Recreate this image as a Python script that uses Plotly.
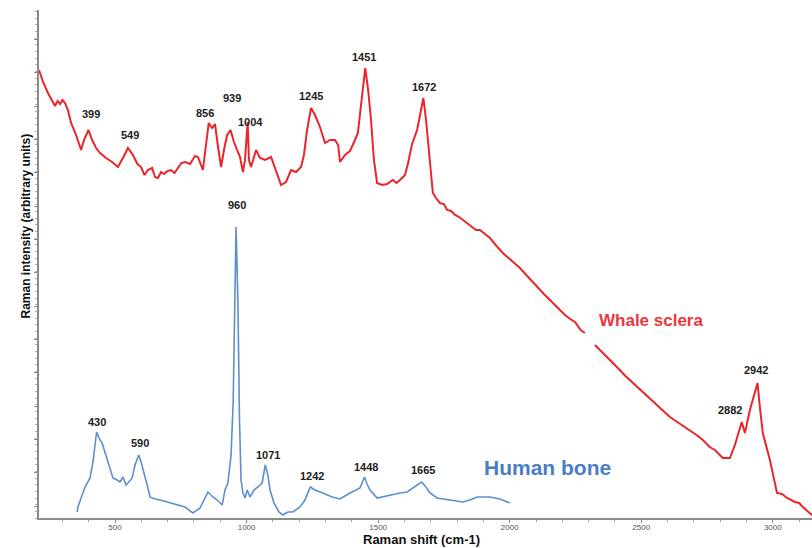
import plotly.graph_objects as go

# ---------------- data ----------------
# Whale sclera spectrum: Raman shift (cm-1) and intensity (arbitrary units)
whale_shift = [211, 228, 245, 261, 272, 282, 291, 300, 310, 321, 333, 352, 371, 382, 399, 413, 428, 443, 466, 489,
               511, 530, 549, 568, 585, 599, 612, 625, 641, 652, 663, 675, 686, 700, 713, 726, 739, 752, 766, 785, 804, 815, 834,
               846, 856, 869, 880, 891, 903, 914, 926, 939, 952, 964, 975, 986, 994, 1004, 1009,
               1017, 1024, 1036, 1051, 1070, 1093, 1112, 1131, 1150, 1169, 1188, 1207, 1218, 1230,
               1245, 1260, 1279, 1298, 1317, 1336, 1348, 1355, 1374, 1393, 1412, 1423, 1435, 1451,
               1462, 1473, 1484, 1496, 1515, 1534, 1556, 1570, 1583, 1602, 1613, 1629, 1648, 1659, 1672,
               1682, 1693, 1708, 1720, 1735, 1750, 1762, 1778, 1792, 1808, 1822, 1840, 1857, 1872, 1887,
               1905, 1925, 1950, 1974, 2000, 2020, 2039, 2070, 2104, 2130, 2153, 2180,
               2210, 2230, 2248, 2270, 2286, None, 2324, 2360, 2400, 2440, 2484, 2520, 2552, 2580, 2609,
               2650, 2685, 2710, 2734, 2760, 2780, 2810, 2837,
               2856, 2882, 2894, 2913, 2942, 2950, 2962, 2989, 3016, 3035, 3054, 3084, 3100, 3114, 3149, 3170]
whale_int = [134.4, 130.5, 127.5, 125.4, 123.6, 125.1, 124.2, 125.4, 124.5, 122.4, 118.5, 114.9, 110.4, 113.4, 116.4, 113.4, 111.0, 109.5, 108.0, 106.8,
             105.3, 108.0, 111.0, 108.9, 106.2, 105.3, 102.9, 104.4, 105.0, 102.3, 102.0, 103.8, 103.2, 104.1, 104.4, 103.5, 105.0, 106.5, 106.8, 106.2, 108.6, 108.3, 104.4,
             111.6, 118.5, 117.0, 118.2, 111.6, 105.3, 110.4, 114.9, 116.4, 112.8, 110.4, 108.3, 103.8, 107.4, 118.8, 107.4,
             105.3, 107.4, 110.4, 108.0, 107.4, 108.3, 104.4, 99.9, 100.8, 104.4, 103.8, 105.3, 108.9, 116.4,
             123.0, 120.9, 117.3, 112.5, 113.4, 113.4, 111.9, 106.8, 108.9, 110.1, 113.4, 115.5, 123.9, 135.0,
             128.4, 119.4, 107.4, 100.5, 99.9, 100.2, 101.4, 100.5, 101.4, 102.9, 106.2, 112.2, 116.4, 120.9, 126.0,
             119.4, 110.4, 97.5, 96.0, 94.5, 94.2, 92.4, 92.1, 90.9, 90.3, 89.4, 88.2, 87.3, 86.4, 86.4,
             85.2, 84.0, 81.6, 79.5, 77.7, 76.2, 75.0, 72.3, 69.3, 67.2, 65.4, 63.3,
             60.9, 59.7, 58.8, 56.4, 55.5, None, 51.9, 49.2, 45.9, 42.6, 39.3, 36.9, 34.5, 32.4, 30.3,
             28.2, 26.4, 24.9, 23.4, 21.3, 20.4, 18.0, 18.0,
             21.9, 28.8, 25.5, 32.4, 40.5, 33.9, 25.5, 17.4, 7.5, 7.2, 6.0, 4.8, 4.5, 3.3, 0.9, 0.5]

# Human bone spectrum
bone_shift = [356, 359, 375, 386, 405, 416, 430, 443, 451, 470, 492, 508, 519, 530, 542, 549,
              565, 576, 590, 599, 606, 622, 633, 652, 671, 701, 736, 766, 796, 823, 842, 853,
              872, 888, 907, 918, 929, 941, 949, 956, 960, 967, 973, 979, 986, 994, 1002, 1013,
              1028, 1043, 1059, 1071, 1081, 1089, 1104, 1123, 1138, 1157, 1176, 1203, 1222, 1242,
              1260, 1290, 1325, 1355, 1393, 1431, 1448, 1458, 1469, 1496, 1545, 1583, 1610, 1640,
              1665, 1682, 1697, 1724, 1773, 1822, 1849, 1876, 1925, 1963, 2000]
bone_int = [1.8, 3.3, 6.9, 9.3, 12.0, 16.8, 25.8, 23.4, 22.5, 17.4, 12.0, 11.4, 10.8, 12.3, 9.9, 10.5,
            12.0, 15.9, 18.9, 16.8, 14.4, 9.9, 6.3, 5.7, 5.4, 4.8, 3.9, 3.3, 1.5, 3.0, 6.0, 7.8,
            6.3, 5.4, 3.9, 8.4, 10.5, 18.9, 34.8, 64.8, 87.3, 64.8, 29.4, 11.4, 7.5, 6.0, 8.4, 6.3,
            8.4, 9.3, 10.5, 15.9, 12.9, 8.4, 4.5, 1.8, 0.9, 1.8, 1.8, 3.3, 5.4, 9.3,
            8.4, 7.5, 6.3, 5.7, 7.5, 9.0, 12.3, 10.2, 8.4, 6.0, 6.9, 7.5, 7.8, 9.3,
            10.8, 9.3, 7.5, 6.0, 5.4, 4.8, 5.4, 6.3, 6.3, 5.7, 4.5]

# Peak labels: text, label x (cm-1), label y (intensity)
whale_peaks = ["399", "549", "856", "939", "1004", "1245", "1451", "1672", "2882", "2942"]
whale_peak_x = [409, 557, 842, 945, 1013, 1245, 1446, 1674, 2837, 2936]
whale_peak_y = [121.2, 114.9, 121.5, 126.0, 118.8, 126.6, 138.3, 129.3, 32.4, 44.4]

bone_peaks = ["430", "590", "960", "1071", "1242", "1448", "1665"]
bone_peak_x = [432, 595, 964, 1081, 1249, 1454, 1670]
bone_peak_y = [28.8, 22.5, 93.9, 18.9, 12.6, 15.3, 14.4]

x_ticks = [500, 1000, 1500, 2000, 2500, 3000]

# ---------------- figure ----------------
RED = "#e8262b"
BLUE = "#5b8fd0"
FONT = "Liberation Sans, Arial, sans-serif"

fig = go.Figure()
fig.add_trace(go.Scatter(x=whale_shift, y=whale_int, mode="lines",
                         line=dict(color=RED, width=2), connectgaps=False,
                         hoverinfo="skip", showlegend=False))
fig.add_trace(go.Scatter(x=bone_shift, y=bone_int, mode="lines",
                         line=dict(color=BLUE, width=1.6),
                         hoverinfo="skip", showlegend=False))

annotations = []
for t, x, y in zip(whale_peaks, whale_peak_x, whale_peak_y):
    annotations.append(dict(x=x, y=y, text="<b>%s</b>" % t, showarrow=False,
                            font=dict(family=FONT, size=11, color="#222222")))
for t, x, y in zip(bone_peaks, bone_peak_x, bone_peak_y):
    annotations.append(dict(x=x, y=y, text="<b>%s</b>" % t, showarrow=False,
                            font=dict(family=FONT, size=11, color="#222222")))

annotations.append(dict(x=2330, y=59.4, text="<b>Whale sclera</b>", showarrow=False,
                        xanchor="left", font=dict(family=FONT, size=17, color="#e8383d")))
annotations.append(dict(x=1893, y=15.3, text="<b>Human bone</b>", showarrow=False,
                        xanchor="left", font=dict(family=FONT, size=21, color="#4a7ec4")))

# axis titles
annotations.append(dict(xref="paper", yref="paper", x=0.495, y=-0.0425,
                        text="<b>Raman shift (cm-1)</b>", showarrow=False, yanchor="middle",
                        font=dict(family=FONT, size=13, color="#111111")))
annotations.append(dict(xref="paper", yref="paper", x=-0.029, y=0.575,
                        text="<b>Raman intensity (arbitrary units)</b>", showarrow=False,
                        textangle=-90, font=dict(family=FONT, size=12, color="#111111")))

fig.update_layout(
    width=812, height=548,
    margin=dict(l=39, r=0, t=10, b=30),
    paper_bgcolor="white", plot_bgcolor="white",
    annotations=annotations,
    xaxis=dict(range=[211, 3149], tickmode="array", tickvals=x_ticks,
               ticktext=[str(v) for v in x_ticks],
               showline=True, linecolor="#8a8a8a", linewidth=1.5,
               ticks="outside", ticklen=3, tickcolor="#8a8a8a", ticklabelstandoff=-2,
               tickfont=dict(family=FONT, size=8, color="#555555"),
               minor=dict(dtick=100, tick0=0, ticks="outside", ticklen=2, tickcolor="#a0a0a0"),
               showgrid=False, zeroline=False),
    yaxis=dict(range=[0, 152.4], tick0=3.6, dtick=10, showticklabels=False,
               showline=True, linecolor="#8a8a8a", linewidth=1.5,
               ticks="outside", ticklen=3, tickcolor="#8a8a8a",
               minor=dict(dtick=2, ticks="outside", ticklen=2, tickcolor="#b0b0b0"),
               showgrid=False, zeroline=False),
)

fig.write_html("out.html", config={"displayModeBar": False},
               post_script="document.body.style.margin='0px';document.body.style.overflow='hidden';")
